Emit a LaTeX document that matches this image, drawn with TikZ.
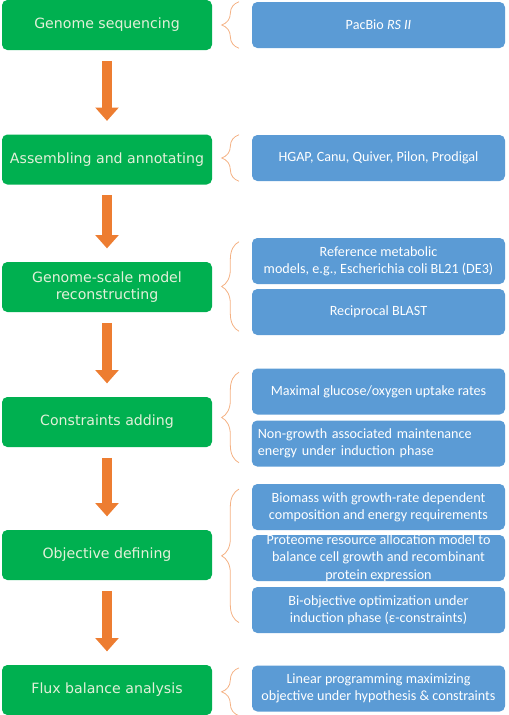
\documentclass[tikz,border=0pt]{standalone}
\usepackage{fontspec}
\setmainfont{Carlito}
\newfontfamily\stepfont{DejaVu Sans}
\usetikzlibrary{arrows.meta,decorations.pathreplacing}
\definecolor{stepGreen}{HTML}{00B050}
\definecolor{stepText}{HTML}{E2F0D9}
\definecolor{toolBlue}{HTML}{5B9BD5}
\definecolor{flowOrange}{HTML}{ED7D31}
\definecolor{braceOrange}{HTML}{F4B183}
\tikzset{
  stepBox/.style={fill=stepGreen, rounded corners=4pt, minimum width=157.5pt, minimum height=37.5pt,
    align=center, text=stepText, font=\stepfont\fontsize{10.6}{12.9}\selectfont},
  toolBox/.style={fill=toolBlue, rounded corners=4pt, minimum width=189.75pt, minimum height=34.5pt,
    align=center, text=white, font=\fontsize{10.6}{13}\selectfont},
  flowArrow/.style={draw=flowOrange, line width=7.5pt, -{Triangle[width=17pt,length=10pt]},
    shorten <=8pt, shorten >=10pt},
  groupBrace/.style={draw=braceOrange, line width=0.6pt, decorate, decoration={brace, amplitude=13pt}}
}

\begin{document}
\begin{tikzpicture}[x=0.75pt, y=-0.75pt]
  \useasboundingbox (0,0) rectangle (509,715);
  \coordinate (brx) at (239,0);

  % steps
  \node[stepBox] (s1) at (107,25) {Genome sequencing};
  \node[stepBox] (s2) at (107,159.5) {Assembling and annotating};
  \node[stepBox] (s3) at (107,287) {Genome-scale model\\reconstructing};
  \node[stepBox] (s4) at (107,422) {Constraints adding};
  \node[stepBox] (s5) at (107,555) {Objective defining};
  \node[stepBox] (s6) at (107,690) {Flux balance analysis};

  % tools and methods
  \node[toolBox] (t1) at (378.5,25) {PacBio \textit{RS II}};
  \node[toolBox] (t2) at (378.5,158) {HGAP, Canu, Quiver, Pilon, Prodigal};
  \node[toolBox] (t3a) at (378.5,261) {Reference metabolic\\models, e.g., Escherichia coli BL21 (DE3)};
  \node[toolBox] (t3b) at (378.5,312) {Reciprocal BLAST};
  \node[toolBox] (t4a) at (378.5,391.5) {Maximal glucose/oxygen uptake rates};
  \node[toolBox, text width=181pt, inner xsep=4.5pt, align=left] (t4b) at (378.5,443.5)
    {Non-growth associated maintenance\\energy under induction phase};
  \node[toolBox] (t5a) at (378.5,507) {Biomass with growth-rate dependent\\composition and energy requirements};
  \node[toolBox] (t5b) at (378.5,558)
    {\parbox[c][20pt][c]{182pt}{\centering Proteome resource allocation model to\\balance cell growth and recombinant\\protein expression}};
  \node[toolBox] (t5c) at (378.5,610) {Bi-objective optimization under\\induction phase (ε-constraints)};
  \node[toolBox] (t6) at (378.5,688.5) {Linear programming maximizing\\objective under hypothesis \& constraints};

  % braces
  \draw[groupBrace] (t1.south -| brx) -- (t1.north -| brx);
  \draw[groupBrace] (t2.south -| brx) -- (t2.north -| brx);
  \draw[groupBrace] ([yshift=3pt]t3b.south -| brx) -- ([yshift=-3pt]t3a.north -| brx);
  \draw[groupBrace] ([yshift=3pt]t4b.south -| brx) -- ([yshift=-3pt]t4a.north -| brx);
  \draw[groupBrace] ([yshift=8pt]t5c.south -| brx) -- ([yshift=-4pt]t5a.north -| brx);
  \draw[groupBrace] ([yshift=-3pt]t6.south -| brx) -- ([yshift=-2pt]t6.north -| brx);

  % flow
  \foreach \a/\b in {s1/s2, s2/s3, s3/s4, s4/s5, s5/s6}
    \draw[flowArrow] (\a) -- (\b);
\end{tikzpicture}
\end{document}
